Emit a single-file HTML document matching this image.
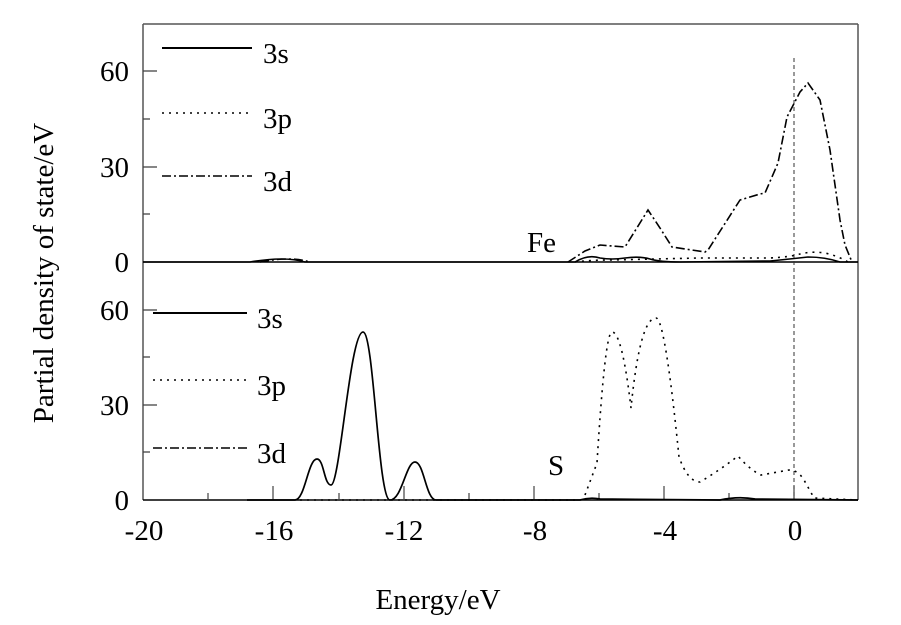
<!DOCTYPE html>
<html><head><meta charset="utf-8"><style>
html,body{margin:0;padding:0;background:#fff;}
svg{display:block;font-family:"Liberation Serif",serif;}
</style></head><body>
<svg width="901" height="625" viewBox="0 0 901 625" xmlns="http://www.w3.org/2000/svg">
<rect width="901" height="625" fill="#fff"/>
<g stroke="#555" stroke-width="1.5" fill="none">
<line x1="143" y1="24" x2="858" y2="24"/>
<line x1="143" y1="24" x2="143" y2="500"/>
<line x1="858" y1="24" x2="858" y2="500"/>
</g>
<g stroke="#000" stroke-width="1.5">
<line x1="143" y1="262" x2="858" y2="262"/>
<line x1="143" y1="500" x2="858" y2="500"/>
</g>
<g stroke="#444" stroke-width="1.3">
<line x1="143" y1="71" x2="157" y2="71"/><line x1="143" y1="119" x2="150" y2="119"/>
<line x1="143" y1="167" x2="157" y2="167"/><line x1="143" y1="214" x2="150" y2="214"/>
<line x1="143" y1="310" x2="157" y2="310"/><line x1="143" y1="357" x2="150" y2="357"/>
<line x1="143" y1="405" x2="157" y2="405"/><line x1="143" y1="452" x2="150" y2="452"/>
</g>
<g stroke="#444" stroke-width="1.2">
<line x1="208" y1="500" x2="208" y2="493"/>
<line x1="273" y1="500" x2="273" y2="486"/>
<line x1="339" y1="500" x2="339" y2="493"/>
<line x1="404" y1="500" x2="404" y2="486"/>
<line x1="469" y1="500" x2="469" y2="493"/>
<line x1="534" y1="500" x2="534" y2="486"/>
<line x1="599" y1="500" x2="599" y2="493"/>
<line x1="664" y1="500" x2="664" y2="486"/>
<line x1="729" y1="500" x2="729" y2="493"/>
<line x1="794" y1="500" x2="794" y2="486"/>
</g>
<line x1="794" y1="58" x2="794" y2="500" stroke="#333" stroke-width="1" stroke-dasharray="4,3"/>
<g font-size="29" fill="#000" text-anchor="end">
<text x="129" y="81">60</text><text x="129" y="177">30</text><text x="129" y="272">0</text>
<text x="129" y="320">60</text><text x="129" y="415">30</text><text x="129" y="510">0</text>
</g>
<g font-size="29" fill="#000" text-anchor="middle">
<text x="144" y="540">-20</text><text x="274" y="540">-16</text><text x="404" y="540">-12</text>
<text x="535" y="540">-8</text><text x="665" y="540">-4</text><text x="795" y="540">0</text>
</g>
<text x="438" y="609" font-size="29" text-anchor="middle">Energy/eV</text>
<text transform="translate(53,273) rotate(-90)" font-size="29" text-anchor="middle">Partial density of state/eV</text>
<g stroke="#000" stroke-width="2" fill="none">
<line x1="162" y1="48" x2="252" y2="48"/>
<line x1="162" y1="113" x2="252" y2="113" stroke-dasharray="2,5" stroke-width="1.6"/>
<line x1="162" y1="176" x2="252" y2="176" stroke-dasharray="9,3,2,3" stroke-width="1.6"/>
<line x1="153" y1="313" x2="247" y2="313"/>
<line x1="153" y1="380" x2="247" y2="380" stroke-dasharray="2,5" stroke-width="1.6"/>
<line x1="153" y1="448" x2="247" y2="448" stroke-dasharray="9,3,2,3" stroke-width="1.6"/>
</g>
<g font-size="29" fill="#000">
<text x="263" y="63">3s</text><text x="263" y="128">3p</text><text x="263" y="191">3d</text>
<text x="257" y="328">3s</text><text x="257" y="395">3p</text><text x="257" y="463">3d</text>
<text x="527" y="252">Fe</text><text x="548" y="475">S</text>
</g>
<g fill="none" stroke="#000">
<path stroke-width="1.6" d="M143,262 L250,262 Q285,256 305,262 L575,262 Q588,254 600,258 Q612,260 625,258 Q640,256 650,259 Q660,262 680,262 L770,261 Q790,259 808,257 Q825,257 840,262 L858,262"/>
<path stroke-width="1.6" stroke-dasharray="2,5" d="M575,262 Q590,260 610,260 L700,258 L770,258 Q790,257 800,254 Q812,251 825,253 Q838,256 848,262"/>
<path stroke-width="1.6" stroke-dasharray="9,3,2,3" d="M260,262 Q290,256 310,262 M568,262 L585,251 L600,245 L625,247 L648,210 L660,228 L672,247 L705,252 L708,250 L740,200 L760,194 L765,193 L778,163 L787,117 L800,92 L808,83 L820,100 L830,150 L840,220 L845,245 L852,262"/>
</g>
<g fill="none" stroke="#000">
<path stroke-width="1.7" d="M247,500 L295,500 C305,500 308,459 317,459 C324,459 324,485 331,485 C340,485 350,332 363,332 C374,332 378,500 390,500 C402,500 406,462 415,462 C424,462 426,500 436,500 L580,500 Q590,497 600,499 L720,500 Q738,496 755,499 L858,500"/>
<path stroke-width="1.6" stroke-dasharray="2,5" d="M300,500 L580,500 M585,495 L597,463 Q605,332 612,332 Q622,332 631,408 Q640,318 656,318 Q665,318 679,457 Q688,482 700,482 Q720,470 738,456 Q750,470 761,475 L789,470 Q798,470 804,480 L814,498 L858,500"/>
</g>
</svg>
</body></html>
